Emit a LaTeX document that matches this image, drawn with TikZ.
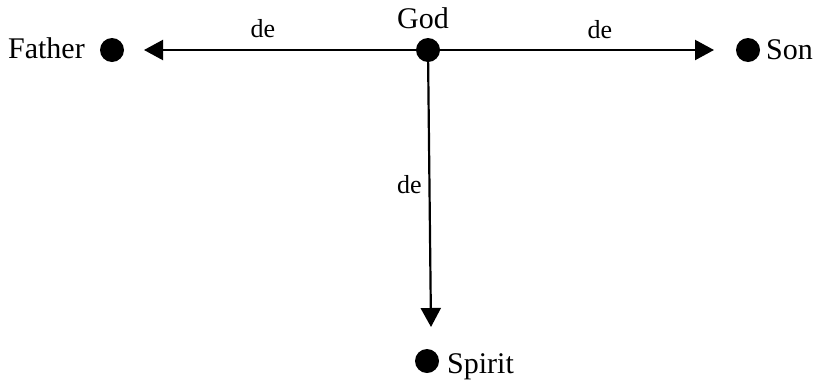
\documentclass[tikz,border=0pt]{standalone}
\usepackage{fontspec}
\setmainfont{Liberation Serif}
\usetikzlibrary{arrows.meta}
\begin{document}
\begin{tikzpicture}[x=1pt,y=-1pt,
  dot/.style={circle,fill=black,inner sep=0pt,minimum size=24pt},
  lbl/.style={inner sep=0pt,font=\fontsize{30}{36}\selectfont},
  edgelbl/.style={inner sep=0pt,anchor=base,font=\fontsize{26}{31}\selectfont},
  conn/.style={line width=2.2pt,-{Triangle[length=19pt,width=20pt]}}]
\useasboundingbox (0,0) rectangle (819,381);
\node[dot] (god) at (428,50) {};
\node[dot] (father) at (112,50) {};
\node[dot] (son) at (748,50) {};
\node[dot] (spirit) at (427,361) {};
\node[lbl,anchor=base] (godl) at (423,28) {God};
\node[lbl,anchor=base east] (fatherl) at (85,58) {Father};
\node[lbl,anchor=base west] (sonl) at (766,59) {Son};
\node[lbl,anchor=base west] (spiritl) at (447,373) {Spirit};
\coordinate (ftip) at (144,50);
\coordinate (stip) at (714,50);
\coordinate (sptip) at (431,327);
\draw[conn] (god.center) -- (ftip);
\draw[conn] (god.center) -- (stip);
\draw[conn] (god.center) -- (sptip);
\node[edgelbl] (de1) at (263,37) {de};
\node[edgelbl] (de2) at (600,38) {de};
\node[edgelbl] (de3) at (409.5,193) {de};
\end{tikzpicture}
\end{document}
